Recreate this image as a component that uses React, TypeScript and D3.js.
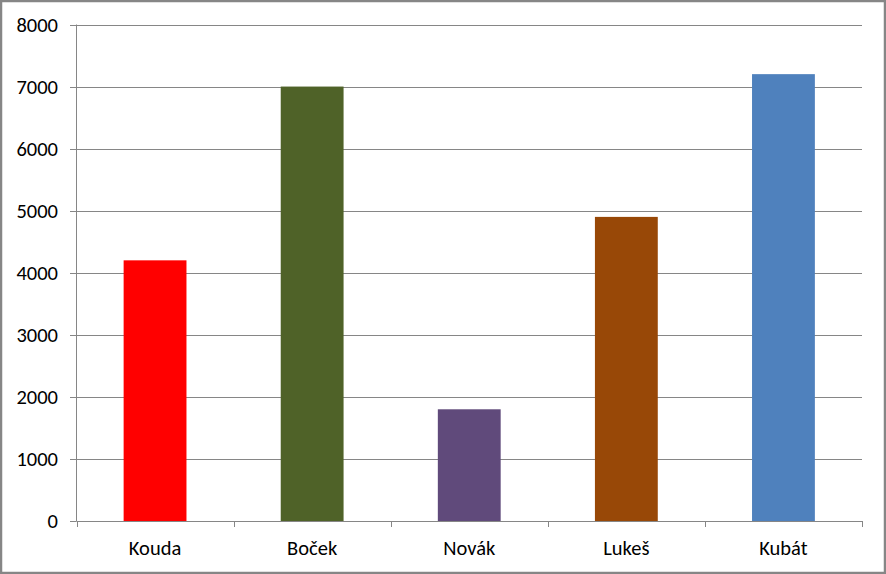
import React from "react";
import * as d3 from "d3";

const categories = ["Kouda", "Boček", "Novák", "Lukeš", "Kubát"];
const values = [4200, 7000, 1800, 4900, 7200];
const colors = ["#FF0000", "#4F6228", "#604A7B", "#984807", "#4F81BD"];
const yTicks = [0, 1000, 2000, 3000, 4000, 5000, 6000, 7000, 8000];

const W = 886;
const H = 574;
const left = 76.5;
const right = 862;
const top = 24.5;
const bottom = 521;

export default function App() {
  const x = d3.scaleBand<string>().domain(categories).range([left, right]).paddingInner(0.6).paddingOuter(0.3);
  const band = d3.scaleBand<string>().domain(categories).range([left, right]);
  const y = d3.scaleLinear().domain([0, 8000]).range([bottom, top]);
  const font = "Carlito, Calibri, Lato, 'Open Sans', sans-serif";
  return (
    <svg width={W} height={H} style={{ position: "absolute", left: 0, top: 0, display: "block" }}>
      <rect x={0} y={0} width={W} height={H} fill="#fff" />
      {yTicks.map((t) => (
        <g key={t}>
          {t > 0 && (
            <line x1={left} x2={right} y1={Math.round(y(t)) + 0.5} y2={Math.round(y(t)) + 0.5} stroke="#868686" strokeWidth={1} />
          )}
          <line x1={70} x2={left} y1={Math.round(y(t)) + 0.5} y2={Math.round(y(t)) + 0.5} stroke="#868686" strokeWidth={1} />
          <text x={58} y={y(t)} dy="0.36em" textAnchor="end" fontFamily={font} fontSize={20.5} fill="#000">
            {t}
          </text>
        </g>
      ))}
      {categories.map((c, i) => (
        <rect key={c} x={x(c)} y={y(values[i])} width={x.bandwidth()} height={bottom - y(values[i])} fill={colors[i]} />
      ))}
      <line x1={left} x2={left} y1={top} y2={bottom} stroke="#868686" strokeWidth={1} />
      <line x1={left} x2={right} y1={bottom + 0.5} y2={bottom + 0.5} stroke="#868686" strokeWidth={1} />
      {categories.concat(["end"]).map((c, i) => {
        const bx = i < categories.length ? band(c)! : right;
        return <line key={"t" + i} x1={Math.round(bx) + 0.5} x2={Math.round(bx) + 0.5} y1={bottom} y2={bottom + 6} stroke="#868686" strokeWidth={1} />;
      })}
      {categories.map((c) => (
        <text key={"l" + c} x={band(c)! + band.bandwidth() / 2} y={555} textAnchor="middle" fontFamily={font} fontSize={20.5} fill="#000">
          {c}
        </text>
      ))}
      <rect x={1} y={1} width={W - 2} height={H - 2} fill="none" stroke="#868686" strokeWidth={2.5} />
    </svg>
  );
}
